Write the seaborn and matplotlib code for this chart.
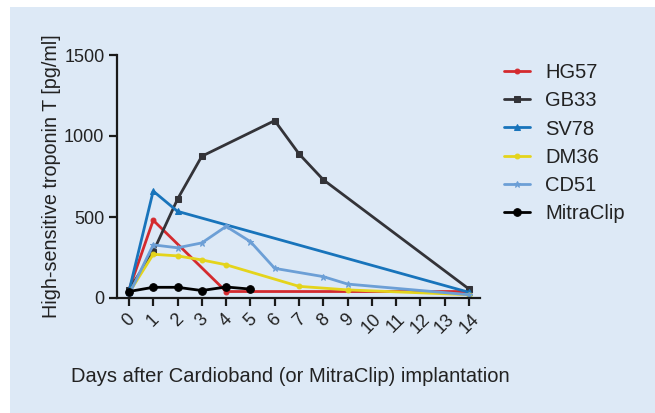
import matplotlib
matplotlib.use("Agg")
import matplotlib.pyplot as plt
import seaborn as sns
import pandas as pd
from matplotlib.patches import Rectangle

sns.set_style("ticks")
plt.rcParams['font.family'] = ['Liberation Sans', 'DejaVu Sans']

# ---- data ----
hg57_x = [0, 1, 4, 14]
hg57_y = [50, 480, 40, 40]
gb33_x = [0, 1, 2, 3, 6, 7, 8, 14]
gb33_y = [50, 285, 610, 875, 1095, 890, 730, 55]
sv78_x = [0, 1, 2, 14]
sv78_y = [40, 660, 535, 35]
dm36_x = [0, 1, 2, 3, 4, 7, 9, 14]
dm36_y = [30, 270, 260, 235, 205, 72, 50, 20]
cd51_x = [0, 1, 2, 3, 4, 5, 6, 8, 9, 14]
cd51_y = [20, 328, 310, 340, 442, 348, 183, 132, 86, 20]
mitra_x = [0, 1, 2, 3, 4, 5]
mitra_y = [40, 66, 66, 46, 68, 55]

series_names = ["HG57", "GB33", "SV78", "DM36", "CD51", "MitraClip"]
series_x = [hg57_x, gb33_x, sv78_x, dm36_x, cd51_x, mitra_x]
series_y = [hg57_y, gb33_y, sv78_y, dm36_y, cd51_y, mitra_y]
colors = ["#d42a2e", "#333338", "#1874bb", "#e4d41c", "#6c9fd6", "#000000"]
markers = ["o", "s", "^", "o", "*", "o"]
msizes = [3.5, 4.5, 4, 3.5, 5, 5.5]

x_ticks = list(range(15))
y_ticks = [0, 500, 1000, 1500]

fig = plt.figure(figsize=(6.55, 4.13), dpi=100, facecolor="white")
bg = "#dde9f6"
fig.patches.append(Rectangle((10 / 655, 0), 1 - 10 / 655, 1 - 7 / 413,
                             transform=fig.transFigure, facecolor=bg,
                             edgecolor="none", zorder=-10))
ax = fig.add_axes([117 / 655, 1 - 298 / 413, (480 - 117) / 655, (298 - 55) / 413])
ax.set_facecolor("none")

for name, xs, ys, c, m, ms in zip(series_names, series_x, series_y, colors, markers, msizes):
    df = pd.DataFrame({"day": xs, "val": ys})
    sns.lineplot(data=df, x="day", y="val", ax=ax, color=c, marker=m,
                 markersize=ms, markeredgecolor=c, linewidth=2.0, label=name)

ax.set_xlim(-0.49, 14.45)
ax.set_ylim(0, 1500)
ax.set_xticks(x_ticks)
ax.set_yticks(y_ticks)
ax.set_xticklabels([str(t) for t in x_ticks], rotation=45, ha="center", va="top")
ax.tick_params(axis="both", direction="out", length=6, width=1.6, colors="#1a1a1a",
               labelsize=13, labelcolor="#222222")
ax.tick_params(axis="y", pad=3)
ax.tick_params(axis="x", pad=3)
for s in ["top", "right"]:
    ax.spines[s].set_visible(False)
for s in ["left", "bottom"]:
    ax.spines[s].set_linewidth(1.6)
    ax.spines[s].set_color("#1a1a1a")

ax.set_xlabel("")
ax.set_ylabel("High-sensitive troponin T [pg/ml]", fontsize=14.2, color="#222222")
ax.yaxis.set_label_coords(-0.155, 0.5)
fig.text(290 / 655, 1 - 376 / 413, "Days after Cardioband (or MitraClip) implantation",
         ha="center", va="center", fontsize=14.5, color="#222222")

leg = ax.legend(loc="upper left", bbox_to_anchor=(504 / 655, 1 - 63 / 413),
                bbox_transform=fig.transFigure, frameon=False, fontsize=14.5,
                handlelength=1.3, handletextpad=0.75, labelspacing=0.46,
                borderaxespad=0, borderpad=0)
for t in leg.get_texts():
    t.set_color("#222222")

fig.savefig("out.png", dpi=100, facecolor=fig.get_facecolor())
